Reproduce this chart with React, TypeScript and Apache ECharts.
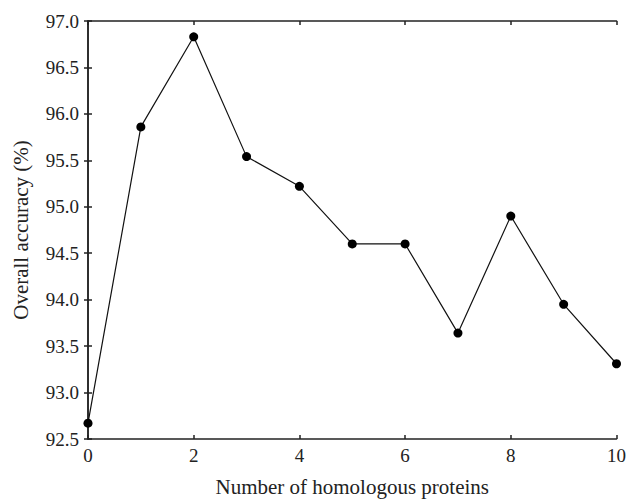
import React, { useEffect, useRef } from "react";
import * as echarts from "echarts";

const xValues = [0, 1, 2, 3, 4, 5, 6, 7, 8, 9, 10];
const accuracy = [92.67, 95.86, 96.83, 95.54, 95.22, 94.6, 94.6, 93.64, 94.9, 93.95, 93.31];
const xTitle = "Number of homologous proteins";
const yTitle = "Overall accuracy (%)";

const FONT = "Liberation Serif";

export default function App() {
  const ref = useRef<HTMLDivElement>(null);
  useEffect(() => {
    if (!ref.current) return;
    const chart = echarts.init(ref.current, null, { renderer: "svg" });
    const axisLine = { show: true, lineStyle: { color: "#222", width: 1.5 } };
    const tick = { show: true, inside: true, length: 4, lineStyle: { color: "#222", width: 1.5 } };
    chart.setOption({
      animation: false,
      backgroundColor: "#fff",
      grid: { left: 88, top: 21, right: 11, bottom: 59, containLabel: false },
      xAxis: [
        {
          type: "value",
          min: 0,
          max: 10,
          interval: 2,
          position: "bottom",
          name: xTitle,
          nameLocation: "middle",
          nameGap: 37,
          nameTextStyle: { fontFamily: FONT, fontSize: 21, color: "#222" },
          axisLine,
          axisTick: tick,
          axisLabel: { fontFamily: FONT, fontSize: 19, color: "#222", margin: 7 },
          splitLine: { show: false },
        },
        {
          type: "value",
          min: 0,
          max: 10,
          interval: 2,
          position: "top",
          axisLine,
          axisTick: tick,
          axisLabel: { show: false },
          splitLine: { show: false },
        },
      ],
      yAxis: [
        {
          type: "value",
          min: 92.5,
          max: 97,
          interval: 0.5,
          position: "left",
          name: yTitle,
          nameLocation: "middle",
          nameGap: 57,
          nameTextStyle: { fontFamily: FONT, fontSize: 21, color: "#222" },
          axisLine,
          axisTick: tick,
          axisLabel: {
            fontFamily: FONT,
            fontSize: 19,
            color: "#222",
            margin: 9,
            formatter: (v: number) => v.toFixed(1),
          },
          splitLine: { show: false },
        },
        {
          type: "value",
          min: 92.5,
          max: 97,
          interval: 0.5,
          position: "right",
          axisLine,
          axisTick: tick,
          axisLabel: { show: false },
          splitLine: { show: false },
        },
      ],
      series: [
        {
          type: "line",
          data: xValues.map((x, i) => [x, accuracy[i]]),
          symbol: "circle",
          symbolSize: 9,
          clip: false,
          itemStyle: { color: "#000" },
          lineStyle: { color: "#111", width: 1.2 },
        },
      ],
    });
    return () => chart.dispose();
  }, []);
  return (
    <div
      ref={ref}
      style={{ position: "absolute", left: 0, top: 0, width: 629, height: 502 }}
    />
  );
}
